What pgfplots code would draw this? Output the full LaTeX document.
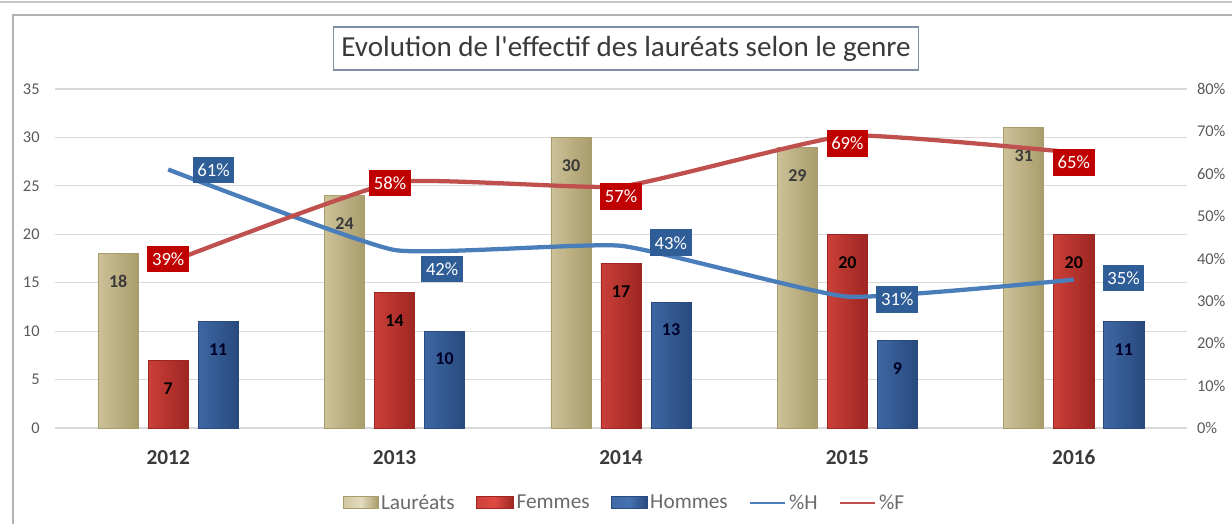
\documentclass[border=0pt]{standalone}
\usepackage{fontspec}
\setmainfont{Carlito}
\usepackage{pgfplots}
\pgfplotsset{compat=1.18}

\definecolor{tickgray}{HTML}{595959}
\definecolor{titlegray}{HTML}{3A3A3A}
\definecolor{gridgray}{HTML}{D9D9D9}
\definecolor{tanM}{HTML}{D8CEA6}
\definecolor{tanD}{HTML}{A99C6C}
\definecolor{redM}{HTML}{DE4A42}
\definecolor{redD}{HTML}{9E2622}
\definecolor{bluM}{HTML}{4571AF}
\definecolor{bluD}{HTML}{284A7E}
\definecolor{lineH}{HTML}{4A7EBB}
\definecolor{lineF}{HTML}{C0504D}
\definecolor{boxF}{HTML}{C00000}
\definecolor{boxH}{HTML}{2F5D98}
\definecolor{framecol}{HTML}{7F8FA6}

\tikzset{
  pctbox/.style={text=white, inner xsep=3.5pt, inner ysep=0pt,
    minimum height=20pt, font=\fontsize{14}{15}\selectfont},
}
\pgfplotsset{
  barlbl/.style 2 args={nodes near coords,
    every node near coord/.append style={anchor=center, yshift=-21pt, xshift=#2,
      font=\bfseries\fontsize{13.5}{14}\selectfont, text=#1}},
  tanbar/.style={ybar, bar shift=-0.221, draw=tanD, line width=0.5pt,
    left color=tanM!75!tanD, middle color=tanM, right color=tanD,
    barlbl={titlegray}{-37.5pt}},
  redbar/.style={ybar, bar shift=0, draw=redD, line width=0.5pt,
    left color=redM!70!redD, middle color=redM, right color=redD,
    barlbl={black}{0pt}},
  blubar/.style={ybar, bar shift=0.221, draw=bluD, line width=0.5pt,
    left color=bluM!75!bluD, middle color=bluM, right color=bluD,
    barlbl={black!85!blue}{37.5pt}},
}

\begin{document}
\begin{tikzpicture}[x=0.75pt, y=0.75pt]
\useasboundingbox (0,0) rectangle (1232,532);

% outer frame of the chart
\draw[gray!45, line width=0.8pt] (0,530) -- (1232,530);
\draw[gray!60, line width=1pt] (13,8) -- (13,517) -- (1232,517);

% title
\node[draw=framecol, line width=0.8pt, fill=white, minimum width=438.75pt,
      minimum height=32.25pt, inner sep=0pt, text=titlegray,
      font=\fontsize{21.8}{24}\selectfont]
  at (626,483.5) {Evolution de l\textquotesingle effectif des lauréats selon le genre};

%% counts (left axis)
\begin{axis}[
  at={(41.25pt,78pt)}, anchor=south west,
  scale only axis, width=849pt, height=254.25pt,
  xmin=-0.5, xmax=4.5, ymin=0, ymax=35,
  xtick={0,1,2,3,4},
  xticklabels={2012,2013,2014,2015,2016},
  ytick={0,5,...,35},
  axis line style={draw=none}, tick style={draw=none},
  ymajorgrids, grid style={gridgray, line width=0.8pt},
  xticklabel style={font=\bfseries\fontsize{16}{17}\selectfont, text=titlegray, yshift=-13pt},
  yticklabel style={font=\fontsize{12.3}{13}\selectfont, text=tickgray, xshift=-8pt},
  /pgf/number format/assume math mode=true,
  bar width=0.177,
  clip=false,
]
% Lauréats
\addplot[tanbar] coordinates {(0,18)};
\addplot[tanbar] coordinates {(1,24)};
\addplot[tanbar] coordinates {(2,30)};
\addplot[tanbar] coordinates {(3,29)};
\addplot[tanbar] coordinates {(4,31)};
% Femmes
\addplot[redbar] coordinates {(0,7)};
\addplot[redbar] coordinates {(1,14)};
\addplot[redbar] coordinates {(2,17)};
\addplot[redbar] coordinates {(3,20)};
\addplot[redbar] coordinates {(4,20)};
% Hommes
\addplot[blubar] coordinates {(0,11)};
\addplot[blubar] coordinates {(1,10)};
\addplot[blubar] coordinates {(2,13)};
\addplot[blubar] coordinates {(3,9)};
\addplot[blubar] coordinates {(4,11)};
\end{axis}

%% shares (right axis)
\begin{axis}[
  at={(41.25pt,78pt)}, anchor=south west,
  scale only axis, width=849pt, height=254.25pt,
  xmin=-0.5, xmax=4.5, ymin=0, ymax=80,
  axis x line=none, axis y line*=right,
  y axis line style={draw=none}, ytick style={draw=none},
  ytick={0,10,...,80},
  yticklabel={\pgfmathprintnumber{\tick}\%},
  yticklabel style={font=\fontsize{12.3}{13}\selectfont, text=tickgray, xshift=4pt},
  /pgf/number format/assume math mode=true,
  clip=false,
  legend columns=5,
  legend style={at={(0.5035,-0.221)}, anchor=center, draw=none, fill=none,
    font=\fontsize{16}{17}\selectfont, text=tickgray!90,
    /tikz/every even column/.append style={column sep=14pt}},
]
\addlegendimage{legend image code/.code={
  \draw[draw=tanD, left color=tanM!85!tanD, right color=tanD, middle color=tanM!70!white]
    (0pt,-4pt) rectangle (26pt,5pt);}}
\addlegendentry{Lauréats}
\addlegendimage{legend image code/.code={
  \draw[draw=redD, left color=redM!75!redD, right color=redD, middle color=redM]
    (0pt,-4pt) rectangle (28pt,5pt);}}
\addlegendentry{Femmes}
\addlegendimage{legend image code/.code={
  \draw[draw=bluD, left color=bluM!80!bluD, right color=bluD, middle color=bluM]
    (0pt,-4pt) rectangle (27pt,5pt);}}
\addlegendentry{Hommes}

\addplot[lineH, line width=3.2pt, smooth, tension=0.25,
  legend image code/.code={\draw[lineH, line width=2pt] (0pt,0pt) -- (26pt,0pt);}]
  coordinates {(0,61) (1,42) (2,43) (3,31) (4,35)};
\addlegendentry{\%H}
\addplot[lineF, line width=3.2pt, smooth, tension=0.25,
  legend image code/.code={\draw[lineF, line width=2pt] (0pt,0pt) -- (26pt,0pt);}]
  coordinates {(0,39) (1,58) (2,57) (3,69) (4,65)};
\addlegendentry{\%F}

% data labels of the shares
\node[pctbox, fill=boxH] at (axis cs:0.20,60.9) {61\%};
\node[pctbox, fill=boxH] at (axis cs:1.21,37.5) {42\%};
\node[pctbox, fill=boxH] at (axis cs:2.22,43.7) {43\%};
\node[pctbox, fill=boxH] at (axis cs:3.22,30.4) {31\%};
\node[pctbox, fill=boxH] at (axis cs:4.22,35.4) {35\%};
\node[pctbox, fill=boxF] at (axis cs:0.00,39.9) {39\%};
\node[pctbox, fill=boxF] at (axis cs:0.98,57.8) {58\%};
\node[pctbox, fill=boxF] at (axis cs:2.00,54.7) {57\%};
\node[pctbox, fill=boxF] at (axis cs:3.00,67.1) {69\%};
\node[pctbox, fill=boxF] at (axis cs:4.00,62.7) {65\%};
\end{axis}
\end{tikzpicture}
\end{document}
